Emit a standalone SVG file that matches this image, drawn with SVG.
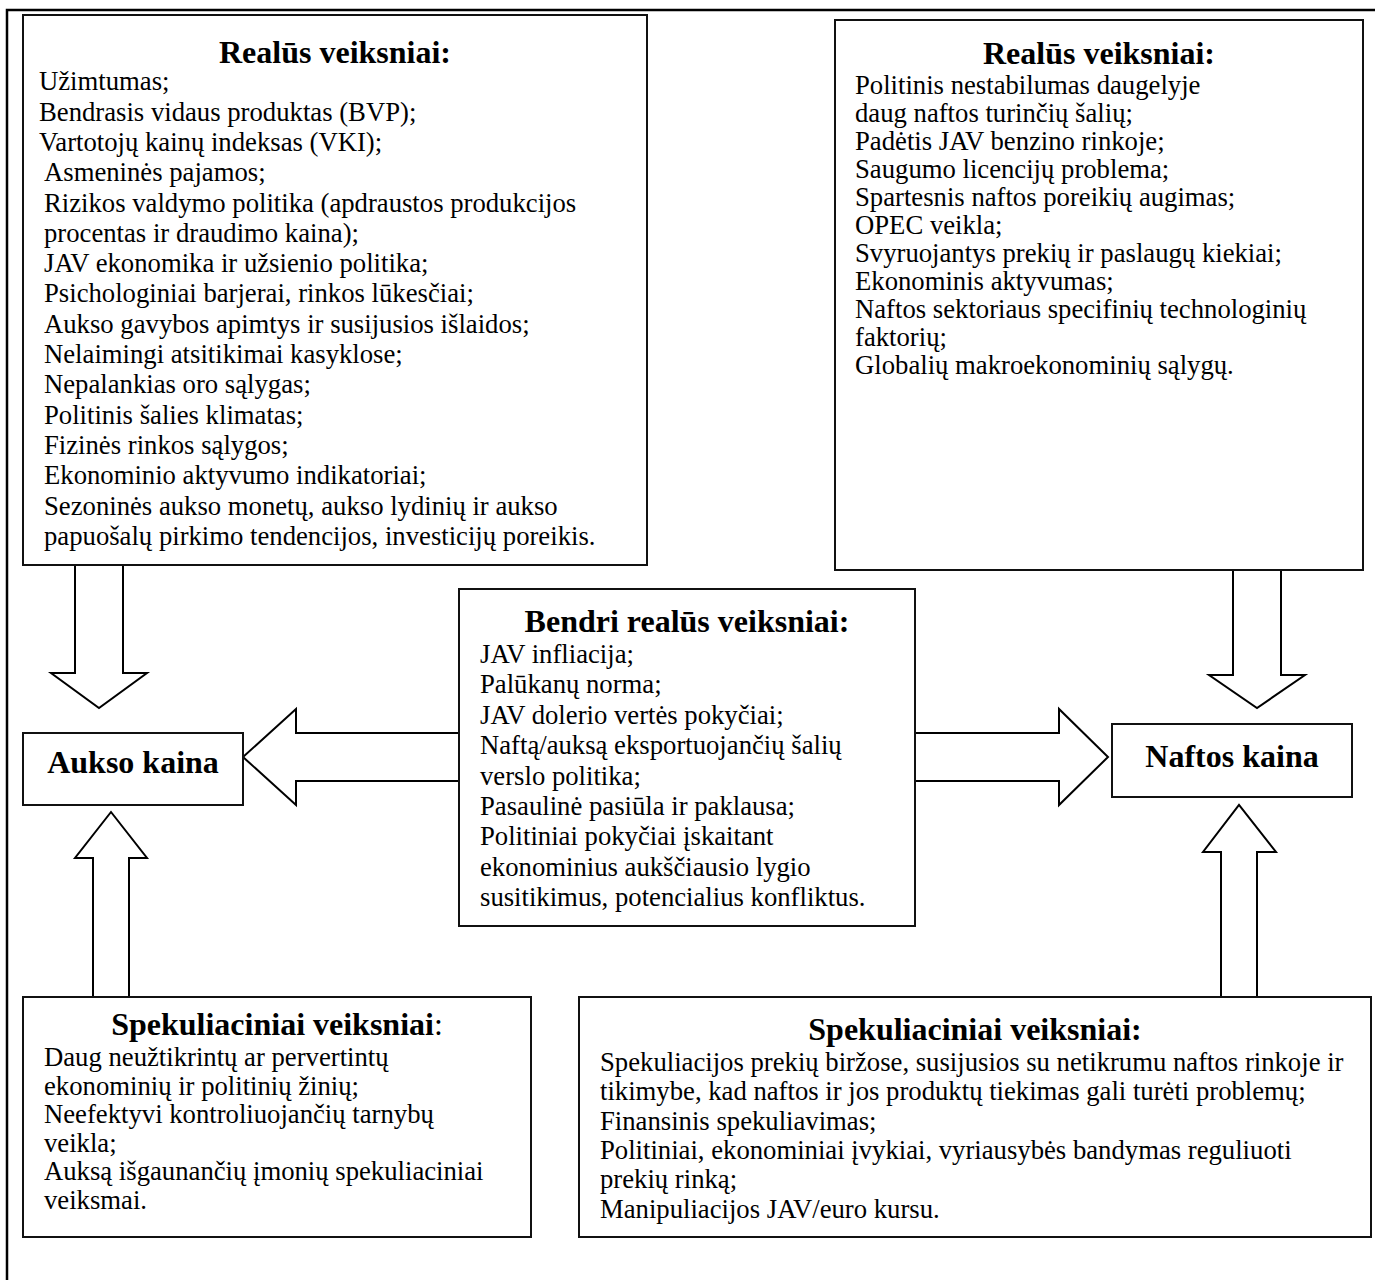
<svg xmlns="http://www.w3.org/2000/svg" width="1375" height="1280" viewBox="0 0 1375 1280">
<style>
.box{fill:#fff;stroke:#111;stroke-width:2}
.arr{fill:#fff;stroke:#000;stroke-width:2;stroke-linejoin:miter}
.t{font-family:"Liberation Serif","Times New Roman",serif;font-size:26.7px;fill:#000}
.h{font-family:"Liberation Serif","Times New Roman",serif;font-size:32px;font-weight:bold;fill:#000;text-anchor:middle}
.n{font-weight:normal}
</style>
<rect width="1375" height="1280" fill="#fff"/>
<g id="frame"><path d="M7,1280 V10 H1375" fill="none" stroke="#000" stroke-width="2.5"/></g>

<g id="connectors">
<polygon class="arr" points="75,565 75,673 51,673 99,708 147,673 123,673 123,565"/>
<polygon class="arr" points="93,997 93,858 75,858 111,812 147,858 129,858 129,997"/>
<polygon class="arr" points="459,733 296,733 296,709 243,757 296,805 296,781 459,781"/>
<polygon class="arr" points="915,733 1059,733 1059,709 1108,757 1059,805 1059,781 915,781"/>
<polygon class="arr" points="1233,570 1233,675 1209,675 1257,708 1305,675 1281,675 1281,570"/>
<polygon class="arr" points="1221,997 1221,852 1203,852 1239,805 1276,852 1257,852 1257,997"/>
</g>

<g id="real-gold">
<rect class="box" x="23" y="15" width="624" height="550"/>
<text class="h" x="335" y="63">Realūs veiksniai:</text>
<text class="t" x="39" y="90">Užimtumas;</text>
<text class="t" x="39" y="120.6">Bendrasis vidaus produktas (BVP);</text>
<text class="t" x="39" y="150.9">Vartotojų kainų indeksas (VKI);</text>
<text class="t" x="44" y="181.2">Asmeninės pajamos;</text>
<text class="t" x="44" y="211.5">Rizikos valdymo politika (apdraustos produkcijos</text>
<text class="t" x="44" y="241.8">procentas ir draudimo kaina);</text>
<text class="t" x="44" y="272.1">JAV ekonomika ir užsienio politika;</text>
<text class="t" x="44" y="302.4">Psichologiniai barjerai, rinkos lūkesčiai;</text>
<text class="t" x="44" y="332.7">Aukso gavybos apimtys ir susijusios išlaidos;</text>
<text class="t" x="44" y="363">Nelaimingi atsitikimai kasyklose;</text>
<text class="t" x="44" y="393.3">Nepalankias oro sąlygas;</text>
<text class="t" x="44" y="423.6">Politinis šalies klimatas;</text>
<text class="t" x="44" y="453.9">Fizinės rinkos sąlygos;</text>
<text class="t" x="44" y="484.2">Ekonominio aktyvumo indikatoriai;</text>
<text class="t" x="44" y="514.5">Sezoninės aukso monetų, aukso lydinių ir aukso</text>
<text class="t" x="44" y="544.8">papuošalų pirkimo tendencijos, investicijų poreikis.</text>
</g>

<g id="real-oil">
<rect class="box" x="835" y="20" width="528" height="550"/>
<text class="h" x="1099" y="64">Realūs veiksniai:</text>
<text class="t" x="855" y="94">Politinis nestabilumas daugelyje</text>
<text class="t" x="855" y="122">daug naftos turinčių šalių;</text>
<text class="t" x="855" y="150">Padėtis JAV benzino rinkoje;</text>
<text class="t" x="855" y="178">Saugumo licencijų problema;</text>
<text class="t" x="855" y="206">Spartesnis naftos poreikių augimas;</text>
<text class="t" x="855" y="234">OPEC veikla;</text>
<text class="t" x="855" y="262">Svyruojantys prekių ir paslaugų kiekiai;</text>
<text class="t" x="855" y="290">Ekonominis aktyvumas;</text>
<text class="t" x="855" y="318">Naftos sektoriaus specifinių technologinių</text>
<text class="t" x="855" y="346">faktorių;</text>
<text class="t" x="855" y="374">Globalių makroekonominių sąlygų.</text>
</g>

<g id="common">
<rect class="box" x="459" y="589" width="456" height="337"/>
<text class="h" x="687" y="632">Bendri realūs veiksniai:</text>
<text class="t" x="480" y="663">JAV infliacija;</text>
<text class="t" x="480" y="693.4">Palūkanų norma;</text>
<text class="t" x="480" y="723.8">JAV dolerio vertės pokyčiai;</text>
<text class="t" x="480" y="754.2">Naftą/auksą eksportuojančių šalių</text>
<text class="t" x="480" y="784.6">verslo politika;</text>
<text class="t" x="480" y="815">Pasaulinė pasiūla ir paklausa;</text>
<text class="t" x="480" y="845.4">Politiniai pokyčiai įskaitant</text>
<text class="t" x="480" y="875.8">ekonominius aukščiausio lygio</text>
<text class="t" x="480" y="906.2">susitikimus, potencialius konfliktus.</text>
</g>

<g id="gold-price">
<rect class="box" x="23" y="733" width="220" height="72"/>
<text class="h" x="133" y="773">Aukso kaina</text>
</g>

<g id="oil-price">
<rect class="box" x="1112" y="724" width="240" height="73"/>
<text class="h" x="1232" y="767">Naftos kaina</text>
</g>

<g id="spec-gold">
<rect class="box" x="23" y="997" width="508" height="240"/>
<text class="h" x="277" y="1035">Spekuliaciniai veiksniai<tspan class="n">:</tspan></text>
<text class="t" x="44" y="1066">Daug neužtikrintų ar pervertintų</text>
<text class="t" x="44" y="1094.6">ekonominių ir politinių žinių;</text>
<text class="t" x="44" y="1123.2">Neefektyvi kontroliuojančių tarnybų</text>
<text class="t" x="44" y="1151.8">veikla;</text>
<text class="t" x="44" y="1180.4">Auksą išgaunančių įmonių spekuliaciniai</text>
<text class="t" x="44" y="1209">veiksmai.</text>
</g>

<g id="spec-oil">
<rect class="box" x="579" y="997" width="792" height="240"/>
<text class="h" x="975" y="1040">Spekuliaciniai veiksniai:</text>
<text class="t" x="600" y="1071">Spekuliacijos prekių biržose, susijusios su netikrumu naftos rinkoje ir</text>
<text class="t" x="600" y="1100.3">tikimybe, kad naftos ir jos produktų tiekimas gali turėti problemų;</text>
<text class="t" x="600" y="1129.6">Finansinis spekuliavimas;</text>
<text class="t" x="600" y="1158.9">Politiniai, ekonominiai įvykiai, vyriausybės bandymas reguliuoti</text>
<text class="t" x="600" y="1188.2">prekių rinką;</text>
<text class="t" x="600" y="1217.5">Manipuliacijos JAV/euro kursu.</text>
</g>
</svg>
